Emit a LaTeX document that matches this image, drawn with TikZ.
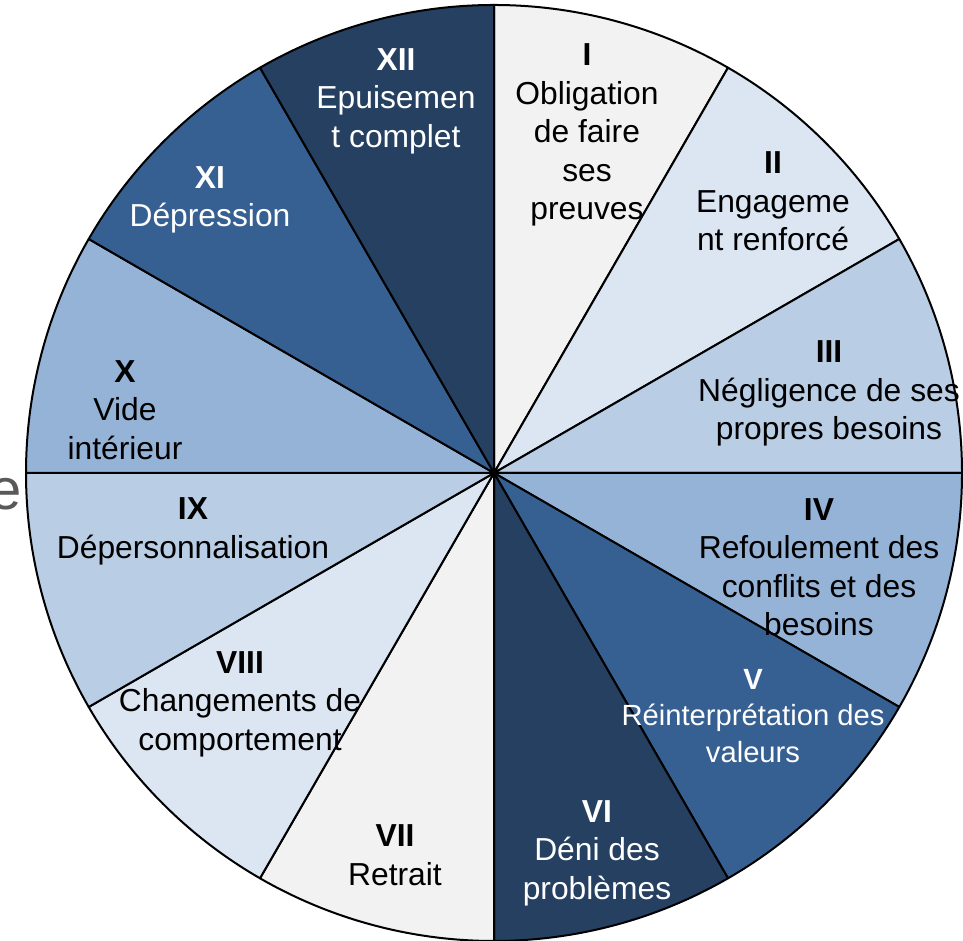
\documentclass[tikz,border=0pt]{standalone}
\usepackage{fontspec}
\setmainfont{Liberation Sans}
\definecolor{cA}{HTML}{F2F2F2}
\definecolor{cB}{HTML}{DCE6F2}
\definecolor{cC}{HTML}{B9CDE5}
\definecolor{cD}{HTML}{95B3D7}
\definecolor{cE}{HTML}{376092}
\definecolor{cF}{HTML}{254061}
\definecolor{cG}{HTML}{595959}
\begin{document}
\begin{tikzpicture}[x=0.5pt,y=0.5pt,
  lbl/.style={align=center,inner sep=0pt,font=\fontsize{15.9}{19.25}\selectfont},
  lblw/.style={lbl,text=white},
  sect/.style={draw=black,line width=1pt,line join=round}]
\useasboundingbox (0,0) rectangle (963,941);
\coordinate (C) at (494,468);
\foreach \k/\col in {1/cA,2/cB,3/cC,4/cD,5/cE,6/cF,7/cA,8/cB,9/cC,10/cD,11/cE,12/cF}{
  \pgfmathsetmacro{\aa}{90-30*(\k-1)}
  \pgfmathsetmacro{\bb}{90-30*\k}
  \filldraw[sect,fill=\col] (C) -- ++(\aa:468) arc[start angle=\aa, end angle=\bb, radius=468] -- cycle;
}
\node[lbl] (t1) at (587,806) {\textbf{I}\\Obligation\\de faire\\ses\\preuves};
\node[lbl] (t2) at (773,739.5) {\textbf{II}\\Engageme\\nt renforcé};
\node[lbl] (t3) at (829,547.5) {\textbf{III}\\Négligence de ses\\propres besoins};
\node[lbl] (t4) at (819,374) {\textbf{IV}\\Refoulement des\\conflits et des\\besoins};
\node[lblw,font=\fontsize{14.6}{18.25}\selectfont] (t5) at (753,225) {\textbf{V}\\Réinterprétation des\\valeurs};
\node[lblw] (t6) at (597,88) {\textbf{VI}\\Déni des\\problèmes};
\node[lbl] (t7) at (395,86) {\textbf{VII}\\Retrait};
\node[lbl] (t8) at (240,237) {\textbf{VIII}\\Changements de\\comportement};
\node[lbl] (t9) at (193,409.5) {\textbf{IX}\\Dépersonnalisation};
\node[lbl] (t10) at (125,531) {\textbf{X}\\Vide\\intérieur};
\node[lblw] (t11) at (210,741) {\textbf{XI}\\Dépression};
\node[lblw] (t12) at (396,840) {\textbf{XII}\\Epuisemen\\t complet};
\node[inner sep=0pt,text=cG,font=\fontsize{29}{34}\selectfont] (te) at (6,447) {e};
\end{tikzpicture}
\end{document}
